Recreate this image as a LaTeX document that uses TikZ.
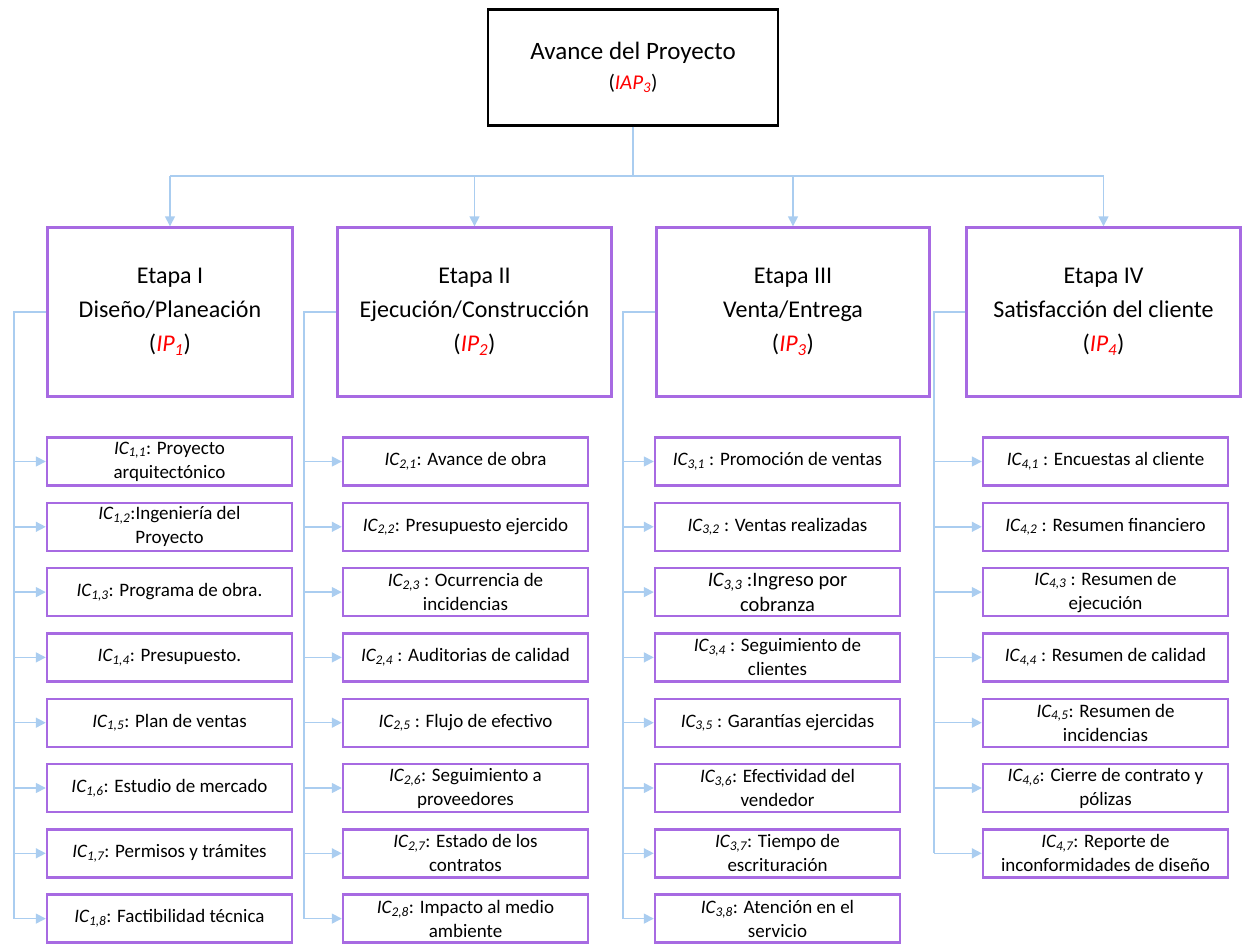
\documentclass[tikz,border=0pt]{standalone}
\usepackage{fontspec}
\setmainfont{Carlito}
\usetikzlibrary{arrows.meta}
\definecolor{purp}{RGB}{167,106,226}
\definecolor{lblue}{RGB}{170,205,240}
\newcommand\icl[2]{\textit{IC\textsubscript{#1,#2}}}
\newcommand\redip[1]{(\textit{\textcolor{red}{IP\textsubscript{#1}}})}
\begin{document}
\begin{tikzpicture}[x=1pt,y=-1pt,
  topbox/.style={draw=black,line width=2.4pt,minimum width=290pt,minimum height=116pt,inner sep=0pt,align=center,font=\fontsize{25}{32}\selectfont},
  etapabox/.style={draw=purp,line width=2.4pt,minimum height=169pt,inner sep=0pt,align=center,font=\fontsize{24}{34}\selectfont},
  icbox/.style={draw=purp,line width=2.4pt,minimum width=245pt,minimum height=48pt,inner sep=0pt,align=center,font=\fontsize{19}{24}\selectfont},
  conn/.style={draw=lblue,line width=1.5pt},
  arr/.style={conn,-{Triangle[length=10pt,width=10pt]}}
]
\useasboundingbox (0,0) rectangle (1243,945);

\node[topbox] (top) at (633,67.5) {Avance del Proyecto\\[-2pt]{\fontsize{21}{24}\selectfont(\textit{\textcolor{red}{IAP\textsubscript{3}}})}};

\node[etapabox,minimum width=245pt] (e1) at (170,312) {Etapa I\\Diseño/Planeación\\\redip{1}};
\node[etapabox,minimum width=274pt] (e2) at (474.5,312) {Etapa II\\Ejecución/Construcción\\\redip{2}};
\node[etapabox,minimum width=273pt] (e3) at (793,312) {Etapa III\\Venta/Entrega\\\redip{3}};
\node[etapabox,minimum width=274pt] (e4) at (1103.5,312) {Etapa IV\\Satisfacción del cliente\\\redip{4}};

% column I
\node[icbox] (a1) at (169.5,461.5) {\icl{1}{1}: Proyecto\\arquitectónico};
\node[icbox] (a2) at (169.5,526.8) {\icl{1}{2}:Ingeniería del\\Proyecto};
\node[icbox] (a3) at (169.5,592.1) {\icl{1}{3}: Programa de obra.};
\node[icbox] (a4) at (169.5,657.4) {\icl{1}{4}: Presupuesto.};
\node[icbox] (a5) at (169.5,722.7) {\icl{1}{5}: Plan de ventas};
\node[icbox] (a6) at (169.5,788) {\icl{1}{6}: Estudio de mercado};
\node[icbox] (a7) at (169.5,853.3) {\icl{1}{7}: Permisos y trámites};
\node[icbox] (a8) at (169.5,918.6) {\icl{1}{8}: Factibilidad técnica};
% column II
\node[icbox] (b1) at (465.5,461.5) {\icl{2}{1}: Avance de obra};
\node[icbox] (b2) at (465.5,526.8) {\icl{2}{2}: Presupuesto ejercido};
\node[icbox] (b3) at (465.5,592.1) {\icl{2}{3} : Ocurrencia de\\incidencias};
\node[icbox] (b4) at (465.5,657.4) {\icl{2}{4} : Auditorias de calidad};
\node[icbox] (b5) at (465.5,722.7) {\icl{2}{5} : Flujo de efectivo};
\node[icbox] (b6) at (465.5,788) {\icl{2}{6}: Seguimiento a\\proveedores};
\node[icbox] (b7) at (465.5,853.3) {\icl{2}{7}: Estado de los\\contratos};
\node[icbox] (b8) at (465.5,918.6) {\icl{2}{8}: Impacto al medio\\ambiente};
% column III
\node[icbox] (c1) at (777.5,461.5) {\icl{3}{1} : Promoción de ventas};
\node[icbox] (c2) at (777.5,526.8) {\icl{3}{2} : Ventas realizadas};
\node[icbox,font=\fontsize{20.5}{25}\selectfont] (c3) at (777.5,592.1) {\icl{3}{3} :Ingreso por\\cobranza};
\node[icbox] (c4) at (777.5,657.4) {\icl{3}{4} : Seguimiento de\\clientes};
\node[icbox] (c5) at (777.5,722.7) {\icl{3}{5} : Garantías ejercidas};
\node[icbox] (c6) at (777.5,788) {\icl{3}{6}: Efectividad del\\vendedor};
\node[icbox] (c7) at (777.5,853.3) {\icl{3}{7}: Tiempo de\\escrituración};
\node[icbox] (c8) at (777.5,918.6) {\icl{3}{8}: Atención en el\\servicio};
% column IV
\node[icbox] (d1) at (1105.5,461.5) {\icl{4}{1} : Encuestas al cliente};
\node[icbox] (d2) at (1105.5,526.8) {\icl{4}{2} : Resumen financiero};
\node[icbox] (d3) at (1105.5,592.1) {\icl{4}{3} : Resumen de\\ejecución};
\node[icbox] (d4) at (1105.5,657.4) {\icl{4}{4} : Resumen de calidad};
\node[icbox] (d5) at (1105.5,722.7) {\icl{4}{5}: Resumen de\\incidencias};
\node[icbox] (d6) at (1105.5,788) {\icl{4}{6}: Cierre de contrato y\\pólizas};
\node[icbox] (d7) at (1105.5,853.3) {\icl{4}{7}: Reporte de\\inconformidades de diseño};

% top bus
\coordinate (bus) at (633,176);
\draw[conn] (top.south) -- (bus);
\draw[conn] (e1.north |- bus) -- (e4.north |- bus);
\foreach \e in {e1,e2,e3,e4} \draw[arr] (\e.north |- bus) -- (\e.north);

% spines
\coordinate (s1) at (14,312);
\coordinate (s2) at (304,312);
\coordinate (s3) at (623,312);
\coordinate (s4) at (934,312);
\draw[conn] (e1.west) -- (s1) -- (s1 |- a8.west);
\draw[conn] (e2.west) -- (s2) -- (s2 |- b8.west);
\draw[conn] (e3.west) -- (s3) -- (s3 |- c8.west);
\draw[conn] (e4.west) -- (s4) -- (s4 |- d7.west);
\foreach \n in {a1,a2,a3,a4,a5,a6,a7,a8} \draw[arr] (s1 |- \n.west) -- (\n.west);
\foreach \n in {b1,b2,b3,b4,b5,b6,b7,b8} \draw[arr] (s2 |- \n.west) -- (\n.west);
\foreach \n in {c1,c2,c3,c4,c5,c6,c7,c8} \draw[arr] (s3 |- \n.west) -- (\n.west);
\foreach \n in {d1,d2,d3,d4,d5,d6,d7} \draw[arr] (s4 |- \n.west) -- (\n.west);
\end{tikzpicture}
\end{document}
